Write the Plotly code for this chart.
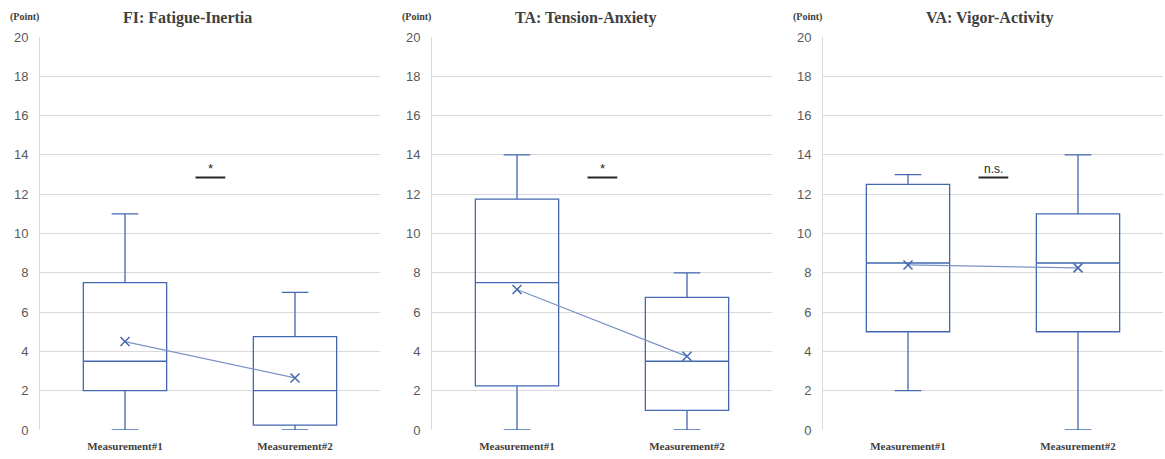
import plotly.graph_objects as go

W, H = 1165, 459

titles = ["FI: Fatigue-Inertia", "TA: Tension-Anxiety", "VA: Vigor-Activity"]
categories = ["Measurement#1", "Measurement#2"]
sig_labels = ["*", "*", "n.s."]

# per panel: [meas1, meas2]
mins = [[0, 0], [0, 0], [2, 0]]
q1s = [[2, 0.25], [2.25, 1], [5, 5]]
medians = [[3.5, 2], [7.5, 3.5], [8.5, 8.5]]
q3s = [[7.5, 4.75], [11.75, 6.75], [12.5, 11]]
maxs = [[11, 7], [14, 8], [13, 14]]
means = [[4.5, 2.65], [7.15, 3.75], [8.4, 8.25]]
sig_level = [12.85, 12.85, 12.85]

y_ticks = [0, 2, 4, 6, 8, 10, 12, 14, 16, 18, 20]

# layout geometry (pixels)
panel_left = [40, 432, 823]
panel_w = 340
title_cx = [187, 586, 990]
plot_top, plot_bot = 37, 430

BOX_COLOR = "#4268b0"
MEAN_LINE = "#7b93c8"

fig = go.Figure()
xpos = [0.5, 1.5]

for p in range(3):
    xa = "x" if p == 0 else f"x{p+1}"
    ya = "y" if p == 0 else f"y{p+1}"
    for i in range(2):
        fig.add_trace(go.Box(
            x=[xpos[i]], q1=[q1s[p][i]], median=[medians[p][i]], q3=[q3s[p][i]],
            lowerfence=[mins[p][i]], upperfence=[maxs[p][i]],
            width=0.49, whiskerwidth=0.32,
            line=dict(color=BOX_COLOR, width=1.3),
            fillcolor="rgba(255,255,255,0)",
            boxpoints=False, showlegend=False, hoverinfo="skip",
            xaxis=xa, yaxis=ya,
        ))
    fig.add_trace(go.Scatter(
        x=xpos, y=means[p], mode="lines+markers",
        line=dict(color=MEAN_LINE, width=1.3),
        marker=dict(symbol="x-thin", size=9, line=dict(color=BOX_COLOR, width=1.5)),
        showlegend=False, hoverinfo="skip", xaxis=xa, yaxis=ya,
    ))

layout = dict(
    width=W, height=H,
    margin=dict(l=0, r=0, t=0, b=0, pad=0),
    paper_bgcolor="white", plot_bgcolor="white",
    font=dict(family="Liberation Sans", color="#595959"),
    annotations=[], shapes=[],
)

ydom = [1 - plot_bot / H, 1 - plot_top / H]
for p in range(3):
    sfx = "" if p == 0 else str(p + 1)
    x0 = panel_left[p] / W
    x1 = (panel_left[p] + panel_w) / W
    layout["xaxis" + sfx] = dict(
        domain=[x0, x1], range=[0, 2], anchor="y" + sfx,
        tickvals=xpos, ticktext=categories, automargin=False,
        tickfont=dict(family="Liberation Serif", size=11, color="#404040", weight="bold"),
        showgrid=False, zeroline=False, showline=False, ticks="",
        ticklabelstandoff=8, fixedrange=True,
    )
    layout["yaxis" + sfx] = dict(
        domain=ydom, range=[0, 20], anchor="x" + sfx, automargin=False,
        tickvals=y_ticks, showgrid=True, gridcolor="#d9d9d9", gridwidth=1,
        zeroline=False, showline=True, linecolor="#d9d9d9", linewidth=1,
        ticks="", tickfont=dict(size=13, color="#595959"),
        ticklabelstandoff=8, fixedrange=True,
    )
    xref = "x" + sfx
    yref = "y" + sfx
    # title
    layout["annotations"].append(dict(
        text=titles[p], x=title_cx[p] / W, y=1 - 18 / H, xref="paper", yref="paper",
        showarrow=False, xanchor="center", yanchor="middle",
        font=dict(family="Liberation Serif", size=16, color="#404040", weight="bold"),
    ))
    # (Point)
    layout["annotations"].append(dict(
        text="(Point)", x=(panel_left[p] - 16) / W, y=1 - 17 / H, xref="paper", yref="paper",
        showarrow=False, xanchor="center", yanchor="middle",
        font=dict(family="Liberation Serif", size=10, color="#404040", weight="bold"),
    ))
    # significance
    layout["shapes"].append(dict(
        type="line", xref=xref, yref=yref, x0=0.915, x1=1.09,
        y0=sig_level[p], y1=sig_level[p], line=dict(color="#262626", width=2),
    ))
    layout["annotations"].append(dict(
        text=sig_labels[p], x=1.0, y=sig_level[p], xref=xref, yref=yref,
        showarrow=False, xanchor="center", yanchor="bottom", yshift=0,
        font=dict(family="Liberation Sans", size=13 if p < 2 else 12, color="#262626"),
    ))

fig.update_layout(**layout)
fig.write_html("out.html")
